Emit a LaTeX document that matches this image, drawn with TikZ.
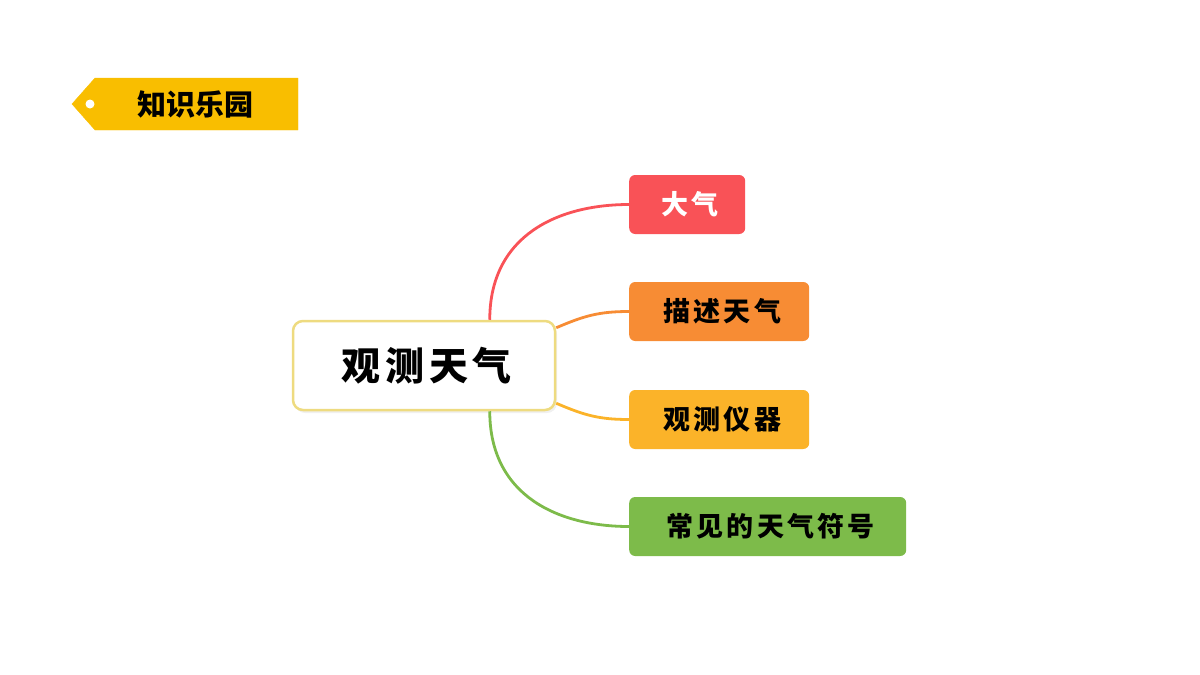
\documentclass[tikz,border=0pt]{standalone}
\usepackage{fontspec}
\newfontfamily\cjk[LetterSpace=12]{Noto Sans CJK SC}
\newfontfamily\cjktag{Noto Sans CJK SC}
\usetikzlibrary{shadows}
\definecolor{tagyellow}{HTML}{F9BE00}
\definecolor{cborder}{HTML}{EEDB80}
\definecolor{cred}{HTML}{F95257}
\definecolor{corange}{HTML}{F78C34}
\definecolor{cyellow}{HTML}{FBB329}
\definecolor{cgreen}{HTML}{7DBB4A}
\tikzset{
  child/.style={rounded corners=6pt, minimum height=59pt, anchor=west, inner sep=0pt,
    font=\cjk\bfseries\fontsize{27}{32}\selectfont},
  link/.style={line width=2.8pt},
}
\begin{document}
\begin{tikzpicture}[x=1pt,y=-1pt]
\useasboundingbox (0,0) rectangle (1200,675);
% tag
\filldraw[tagyellow] (72,104) -- (95,78) -- (298,78) -- (298,130) -- (95,130) -- cycle;
\fill[white] (90,104) circle (4.5);
\node[font=\cjktag\bfseries\fontsize{29}{33}\selectfont, text=black] (tag) at (195,104) {知识乐园};
% centre
\node[draw=cborder, line width=2.5pt, fill=white, rounded corners=10pt,
      minimum width=262pt, minimum height=89pt, inner sep=0pt,
      drop shadow={opacity=0.12, shadow xshift=2pt, shadow yshift=-3pt},
      font=\cjk\bfseries\fontsize{39}{44}\selectfont] (c) at (424,365.5) {\hspace*{6pt}观测天气};
% children
\node[child, fill=cred, text=white, minimum width=116pt] (a1) at (629,204.5) {\hspace*{6pt}大气};
\node[child, fill=corange, text=black, minimum width=180pt] (a2) at (629,311.5) {\hspace*{6pt}描述天气};
\node[child, fill=cyellow, text=black, minimum width=180pt] (a3) at (629,419.5) {\hspace*{6pt}观测仪器};
\node[child, fill=cgreen, text=black, minimum width=277pt] (a4) at (629,526.5) {\hspace*{6pt}常见的天气符号};
% connectors
\draw[link, cred] ([xshift=198pt]c.north west) .. controls +(0,-85) and +(-70,0) .. (a1.west);
\draw[link, corange] ([yshift=-8pt]c.north east) .. controls +(28,-12) and +(-30,0) .. (a2.west);
\draw[link, cyellow] ([yshift=8pt]c.south east) .. controls +(28,12) and +(-30,0) .. (a3.west);
\draw[link, cgreen] ([xshift=198pt]c.south west) .. controls +(0,85) and +(-70,0) .. (a4.west);
\end{tikzpicture}
\end{document}
